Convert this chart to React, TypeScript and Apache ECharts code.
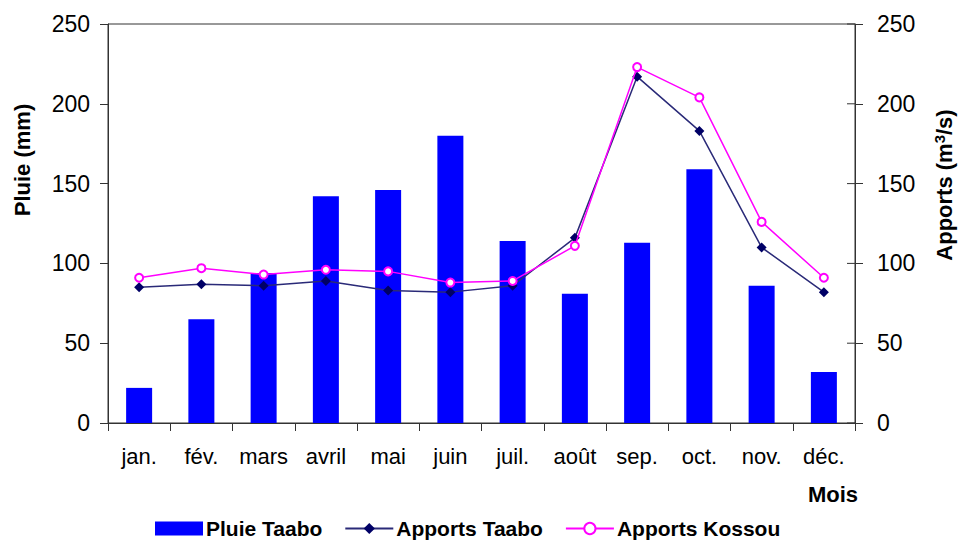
import React, { useEffect, useRef } from "react";
import * as echarts from "echarts";

const months = ["jan.", "fév.", "mars", "avril", "mai", "juin", "juil.", "août", "sep.", "oct.", "nov.", "déc."];
const pluieTaabo = [22, 65, 94, 142, 146, 180, 114, 81, 113, 159, 86, 32];
const apportsTaabo = [85, 87, 86, 89, 83, 82, 86, 116, 217, 183, 110, 82];
const apportsKossou = [91, 97, 93, 96, 95, 88, 89, 111, 223, 204, 126, 91];
const yTicks = [0, 50, 100, 150, 200, 250];

const FONT = "Liberation Sans, Arial, sans-serif";

export default function App() {
  const ref = useRef<HTMLDivElement>(null);
  useEffect(() => {
    if (!ref.current) return;
    const chart = echarts.init(ref.current, null, { renderer: "svg" });
    const axisColor = "#333";
    chart.setOption({
      animation: false,
      backgroundColor: "#fff",
      textStyle: { fontFamily: FONT },
      grid: { left: 108, right: 103, top: 24, bottom: 118, show: true, borderColor: axisColor, borderWidth: 1, backgroundColor: "transparent" },
      legend: {
        left: 150,
        top: 513,
        itemWidth: 48,
        itemHeight: 14,
        itemGap: 22,
        textStyle: { fontFamily: FONT, fontSize: 21, fontWeight: "bold", color: "#000", padding: [0, 0, 0, -2] },
        data: [
          { name: "Pluie Taabo", icon: "rect" },
          { name: "Apports Taabo" },
          { name: "Apports Kossou" },
        ],
      },
      xAxis: {
        type: "category",
        data: months,
        boundaryGap: true,
        axisLine: { lineStyle: { color: axisColor, width: 1 } },
        axisTick: { show: true, length: 8, inside: false, lineStyle: { color: axisColor } },
        axisLabel: { color: "#000", fontSize: 22, fontFamily: FONT, margin: 22, interval: 0 },
        name: "Mois",
        nameLocation: "end",
        nameGap: 0,
        nameTextStyle: { fontSize: 22, fontWeight: "bold", color: "#000", fontFamily: FONT, align: "right", verticalAlign: "top", padding: [60, -3, 0, 0] },
      },
      yAxis: [
        {
          type: "value",
          min: 0,
          max: 250,
          interval: 50,
          axisLine: { show: true, lineStyle: { color: axisColor } },
          axisTick: { show: true, length: 8, lineStyle: { color: axisColor } },
          axisLabel: { color: "#000", fontSize: 23, fontFamily: FONT, margin: 18 },
          splitLine: { show: false },
        },
        {
          type: "value",
          min: 0,
          max: 250,
          interval: 50,
          position: "right",
          axisLine: { show: true, lineStyle: { color: axisColor } },
          axisTick: { show: true, length: 8, lineStyle: { color: axisColor } },
          axisLabel: { color: "#000", fontSize: 23, fontFamily: FONT, margin: 22 },
          splitLine: { show: false },
        },
      ],
      graphic: [
        {
          type: "text",
          x: 22,
          y: 160,
          rotation: Math.PI / 2,
          style: { text: "Pluie (mm)", fontSize: 22, fontWeight: "bold", fontFamily: FONT, fill: "#000", align: "center", verticalAlign: "middle" },
        },
        {
          type: "text",
          x: 944,
          y: 185,
          rotation: Math.PI / 2,
          style: {
            text: "{a|Apports (m}{s|3}{a|/s)}",
            fill: "#000",
            align: "center",
            verticalAlign: "middle",
            rich: {
              a: { fontSize: 22, fontWeight: "bold", fontFamily: FONT, fill: "#000" },
              s: { fontSize: 15, fontWeight: "bold", fontFamily: FONT, fill: "#000", verticalAlign: "top", padding: [0, 0, 9, 0] },
            },
          },
        },
        ...yTicks.map((t) => ({
          type: "line",
          silent: true,
          shape: { x1: 847, y1: 423 - t * 1.596, x2: 855, y2: 423 - t * 1.596 },
          style: { stroke: axisColor, lineWidth: 1 },
        })),
      ],
      series: [
        {
          name: "Pluie Taabo",
          type: "bar",
          data: pluieTaabo,
          barWidth: 26,
          itemStyle: { color: "#0000ff" },
          z: 1,
        },
        {
          name: "Apports Taabo",
          type: "line",
          yAxisIndex: 1,
          data: apportsTaabo,
          symbol: "diamond",
          symbolSize: 10,
          lineStyle: { color: "#2a2a78", width: 1.5 },
          itemStyle: { color: "#000066" },
          z: 3,
        },
        {
          name: "Apports Kossou",
          type: "line",
          yAxisIndex: 1,
          data: apportsKossou,
          symbol: "emptyCircle",
          symbolSize: 8,
          lineStyle: { color: "#ff00ff", width: 1.5 },
          itemStyle: { color: "#ff00ff", borderColor: "#ff00ff", borderWidth: 1.2 },
          z: 4,
        },
      ],
    });
    return () => chart.dispose();
  }, []);
  return <div ref={ref} style={{ width: 958, height: 541, position: "absolute", left: 0, top: 0 }} />;
}
